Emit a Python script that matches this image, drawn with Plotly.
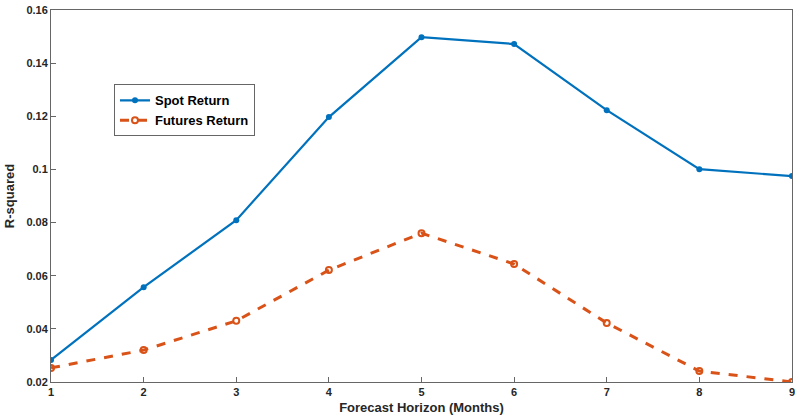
import plotly.graph_objects as go

horizon = [1, 2, 3, 4, 5, 6, 7, 8, 9]
spot = [0.0283, 0.0557, 0.0809, 0.1197, 0.1498, 0.1472, 0.1223, 0.1001, 0.0975]
futures = [0.0253, 0.0320, 0.0430, 0.0621, 0.0760, 0.0644, 0.0422, 0.0241, 0.0200]
yticks = [0.02, 0.04, 0.06, 0.08, 0.1, 0.12, 0.14, 0.16]
ytick_labels = ["0.02", "0.04", "0.06", "0.08", "0.1", "0.12", "0.14", "0.16"]

fig = go.Figure()
fig.add_trace(go.Scatter(x=horizon, y=spot, mode="lines+markers", name="<b>Spot Return</b>",
                         line=dict(color="#0072BD", width=2.2),
                         marker=dict(symbol="circle", size=6, color="#0072BD")))
fig.add_trace(go.Scatter(x=horizon, y=futures, mode="lines+markers", name="<b>Futures Return</b>",
                         line=dict(color="#D95319", width=3, dash="dash"),
                         marker=dict(symbol="circle-open", size=6, color="#D95319",
                                     line=dict(width=2))))

axis_common = dict(showgrid=False, zeroline=False, showline=True, linecolor="#666666",
                   linewidth=1, mirror=True, ticks="inside", ticklen=5, tickcolor="#666666",
                   ticklabeloverflow="allow", automargin=False,
                   tickfont=dict(family="Liberation Sans", size=11, color="#262626"))
fig.update_xaxes(range=[0.9995, 9.0005], tickvals=horizon,
                 ticktext=["<b>%d</b>" % h for h in horizon],
                 title=dict(text="<b>Forecast Horizon (Months)</b>", standoff=5,
                            font=dict(family="Liberation Sans", size=13, color="#262626")),
                 **axis_common)
fig.update_yaxes(range=[0.01999, 0.16001], tickvals=yticks,
                 ticktext=["<b>%s</b>" % t for t in ytick_labels],
                 title=dict(text="<b>R-squared</b>", standoff=8,
                            font=dict(family="Liberation Sans", size=13, color="#262626")),
                 **axis_common)
fig.update_layout(width=798, height=419, margin=dict(l=51, r=6, t=10, b=37),
                  paper_bgcolor="white", plot_bgcolor="white",
                  font=dict(family="Liberation Sans", color="#262626"),
                  legend=dict(x=0.085, y=0.80, xanchor="left", yanchor="top",
                              bordercolor="#666666", borderwidth=1, bgcolor="white",
                              font=dict(family="Liberation Sans", size=13, color="black"),
                              tracegroupgap=0, itemwidth=30),
                  showlegend=True)
fig.write_html("out.html")
